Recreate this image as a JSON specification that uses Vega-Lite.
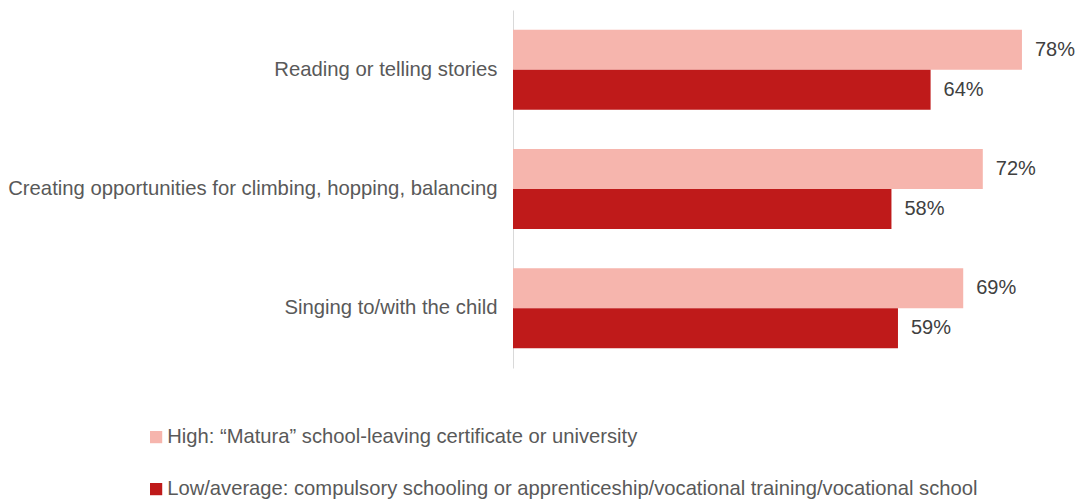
{
  "$schema": "https://vega.github.io/schema/vega-lite/v6.json",
  "width": 522,
  "height": 358,
  "autosize": {"type": "none"},
  "padding": {"left": 513, "top": 10, "right": 47, "bottom": 132},
  "background": "white",
  "config": {"view": {"stroke": null}, "font": "Liberation Sans"},
  "data": {"values": [
    {"activity": "Reading or telling stories", "group": "High: “Matura” school-leaving certificate or university", "value": 0.78},
    {"activity": "Reading or telling stories", "group": "Low/average: compulsory schooling or apprenticeship/vocational training/vocational school", "value": 0.64},
    {"activity": "Creating opportunities for climbing, hopping, balancing", "group": "High: “Matura” school-leaving certificate or university", "value": 0.72},
    {"activity": "Creating opportunities for climbing, hopping, balancing", "group": "Low/average: compulsory schooling or apprenticeship/vocational training/vocational school", "value": 0.58},
    {"activity": "Singing to/with the child", "group": "High: “Matura” school-leaving certificate or university", "value": 0.69},
    {"activity": "Singing to/with the child", "group": "Low/average: compulsory schooling or apprenticeship/vocational training/vocational school", "value": 0.59}
  ]},
  "encoding": {
    "y": {
      "field": "activity", "type": "nominal", "sort": null,
      "scale": {"paddingInner": 0.33, "paddingOuter": 0.165},
      "axis": {"title": null, "ticks": false, "labelFontSize": 20.3, "labelColor": "#595959", "labelPadding": 16, "labelLimit": 600, "domainColor": "#d9d9d9", "domainWidth": 1}
    },
    "yOffset": {"field": "group", "type": "nominal", "sort": null},
    "x": {"field": "value", "type": "quantitative", "scale": {"domain": [0, 0.8]}, "axis": null}
  },
  "layer": [
    {
      "mark": {"type": "bar"},
      "encoding": {
        "color": {
          "field": "group", "type": "nominal", "sort": null,
          "scale": {"range": ["#F6B5AD", "#BF1A1A"]},
          "legend": {
            "title": null, "orient": "none", "legendX": -367, "legendY": 417,
            "symbolType": "square", "symbolSize": 150, "symbolStrokeWidth": 0,
            "labelFontSize": 20.2, "labelColor": "#595959", "labelLimit": 1000,
            "labelOffset": 1, "rowPadding": 31
          }
        }
      }
    },
    {
      "mark": {"type": "text", "align": "left", "baseline": "middle", "dx": 13, "fontSize": 20, "color": "#404040"},
      "encoding": {"text": {"field": "value", "type": "quantitative", "format": ".0%"}}
    }
  ]
}
